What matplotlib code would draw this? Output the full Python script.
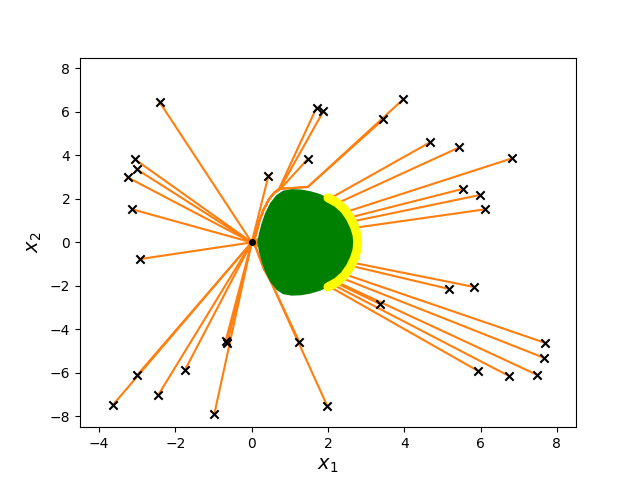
import matplotlib
matplotlib.use("Agg")
import matplotlib.pyplot as plt
import numpy as np

# points joined straight to the origin
direct_x = [-2.41, -3.06, -3.01, -3.25, -3.13, -2.94, 0.44, -0.68, -0.64, -0.98,
            -1.75, -2.45, -3.00, -3.64,
            4.67, 5.44, 6.83, 5.53, 5.98, 6.11, 5.17, 5.83, 3.36, 7.69, 7.66,
            5.93, 6.75, 7.49]
direct_y = [6.44, 3.82, 3.36, 2.99, 1.52, -0.77, 3.07, -4.52, -4.62, -7.90,
            -5.87, -7.02, -6.10, -7.48,
            4.60, 4.37, 3.87, 2.46, 2.18, 1.52, -2.14, -2.05, -2.83, -4.62, -5.31,
            -5.91, -6.15, -6.10]

# points whose path bends round the top of the set
top_x = [1.70, 1.88, 1.47, 3.45, 3.97]
top_y = [6.20, 6.04, 3.84, 5.66, 6.58]
top_via_x = [[0.72], [0.74], [0.76], [1.47, 1.05, 0.76], [1.47, 1.05, 0.76]]
top_via_y = [[2.47], [2.47], [2.47], [2.55, 2.50, 2.47], [2.55, 2.50, 2.47]]
hug_top_x = [0.60, 0.45, 0.31, 0.20, 0.13, 0.08, 0.0]
hug_top_y = [2.30, 1.98, 1.50, 0.98, 0.50, 0.20, 0.0]

# points whose path bends round the bottom of the set
bot_x = [1.25, 1.98]
bot_y = [-4.58, -7.52]
hug_bot_x = [0.49, 0.32, 0.19, 0.11, 0.05, 0.0]
hug_bot_y = [-1.76, -1.22, -0.62, -0.25, -0.08, 0.0]

# upper half of the set boundary, left to right (mirrored below)
shape_x = [0.15, 0.19, 0.26, 0.35, 0.48, 0.65, 0.82, 1.05, 1.30, 1.55, 1.80,
           2.00, 2.24, 2.43, 2.58, 2.69, 2.76, 2.78]
shape_y = [0.0, 0.42, 0.88, 1.34, 1.80, 2.18, 2.38, 2.45, 2.43, 2.35, 2.22,
           2.05, 1.82, 1.52, 1.15, 0.75, 0.36, 0.0]

# part of the boundary highlighted in yellow (upper half)
arc_x = [2.00, 2.24, 2.43, 2.58, 2.69, 2.76, 2.78]
arc_y = [2.05, 1.82, 1.52, 1.15, 0.75, 0.36, 0.0]

fig, ax = plt.subplots()

for x, y in zip(direct_x, direct_y):
    ax.plot([x, 0], [y, 0], color="C1", zorder=1)

for x, y, vx, vy in zip(top_x, top_y, top_via_x, top_via_y):
    ax.plot([x] + vx + hug_top_x, [y] + vy + hug_top_y, color="C1", zorder=1)

for x, y in zip(bot_x, bot_y):
    ax.plot([x] + hug_bot_x, [y] + hug_bot_y, color="C1", zorder=1)

sx = np.array(shape_x)
sy = np.array(shape_y)
ax.fill(np.concatenate([sx, sx[::-1]]), np.concatenate([sy, -sy[::-1]]),
        color="green", zorder=2, lw=0)

ax_ = np.array(arc_x)
ay = np.array(arc_y)
ax.plot(np.concatenate([ax_, ax_[::-1]]), np.concatenate([ay, -ay[::-1]]),
        color="yellow", lw=6.5, solid_capstyle="round", zorder=3)

ax.scatter(direct_x + top_x + bot_x, direct_y + top_y + bot_y,
           marker="x", color="black", zorder=4)
ax.plot(0, 0, "o", color="black", markersize=4, zorder=5)

ax.set_xlim(-4.5, 8.5)
ax.set_ylim(-8.5, 8.5)
ax.set_xlabel("$x_1$", fontsize=14)
ax.set_ylabel("$x_2$", fontsize=14)

fig.savefig("out.png")
